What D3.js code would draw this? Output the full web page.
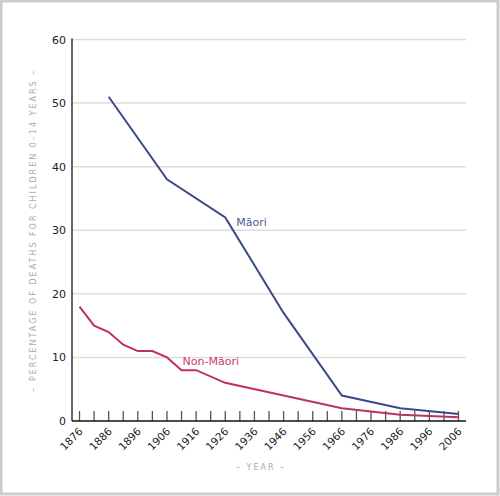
<!DOCTYPE html>
<html>
<head>
<meta charset="utf-8">
<script src="https://cdn.jsdelivr.net/npm/d3@7"></script>
<style>
  html, body { margin: 0; padding: 0; background: #fff; }
  svg { display: block; font-family: "DejaVu Sans", Verdana, sans-serif; }
</style>
</head>
<body>
<div id="chart"></div>
<script>
// values (percentage of deaths for children 0-14)
const maoriYears = [1886, 1906, 1926, 1946, 1966, 1986, 2006];
const maoriValues = [51, 38, 32, 17, 4, 2, 1.1];

const nonMaoriYears = [1876, 1881, 1886, 1891, 1896, 1901, 1906, 1911, 1916, 1926, 1946, 1966, 1976, 1986, 1996, 2006];
const nonMaoriValues = [18, 15, 14, 12, 11, 11, 10, 8, 8, 6, 4, 2, 1.5, 1, 0.8, 0.6];

const yTicks = [0, 10, 20, 30, 40, 50, 60];
const xLabelYears = [1876, 1886, 1896, 1906, 1916, 1926, 1936, 1946, 1956, 1966, 1976, 1986, 1996, 2006];

const width = 500;
const height = 496;

const svg = d3.select("#chart")
  .append("svg")
  .attr("width", width)
  .attr("height", height);

// outer grey frame
svg.append("rect")
  .attr("x", 1).attr("y", 1)
  .attr("width", width - 3).attr("height", height - 3)
  .attr("fill", "#fff")
  .attr("stroke", "#cccccc")
  .attr("stroke-width", 3);

const x = d3.scaleLinear().domain([1876, 2006]).range([79.5, 458.5]);
const y = d3.scaleLinear().domain([0, 60]).range([421, 39.5]);

const plotLeft = 72, plotRight = 466;

// gridlines
svg.append("g")
  .selectAll("line")
  .data(yTicks.filter(d => d > 0))
  .enter().append("line")
  .attr("x1", plotLeft).attr("x2", plotRight)
  .attr("y1", d => y(d)).attr("y2", d => y(d))
  .attr("stroke", "#dddddd")
  .attr("stroke-width", 1.5);

// small tick marks every 5 years
svg.append("g")
  .selectAll("line")
  .data(d3.range(1876, 2007, 5))
  .enter().append("line")
  .attr("x1", d => x(d)).attr("x2", d => x(d))
  .attr("y1", y(0)).attr("y2", y(0) - 10)
  .attr("stroke", "#555")
  .attr("stroke-width", 1.3);

// axes lines
svg.append("line")
  .attr("x1", plotLeft).attr("x2", plotLeft)
  .attr("y1", y(60) - 1).attr("y2", y(0))
  .attr("stroke", "#333").attr("stroke-width", 1.5);
svg.append("line")
  .attr("x1", plotLeft).attr("x2", plotRight)
  .attr("y1", y(0)).attr("y2", y(0))
  .attr("stroke", "#111").attr("stroke-width", 1.5);

// y tick labels
svg.append("g")
  .selectAll("text")
  .data(yTicks)
  .enter().append("text")
  .attr("x", 66)
  .attr("y", d => y(d) + 4)
  .attr("text-anchor", "end")
  .attr("font-size", 11)
  .attr("fill", "#222")
  .text(d => d);

// x tick labels, rotated
svg.append("g")
  .selectAll("text")
  .data(xLabelYears)
  .enter().append("text")
  .attr("transform", d => `translate(${x(d) + 4},${y(0) + 11}) rotate(-45)`)
  .attr("text-anchor", "end")
  .attr("font-size", 10.5)
  .attr("fill", "#222")
  .text(d => d);

// axis titles
svg.append("text")
  .attr("x", 261).attr("y", 470)
  .attr("text-anchor", "middle")
  .attr("font-size", 8)
  .attr("letter-spacing", 2)
  .attr("fill", "#aaa")
  .text("– YEAR –");

svg.append("text")
  .attr("transform", `translate(36,${(y(0) + y(60)) / 2}) rotate(-90)`)
  .attr("text-anchor", "middle")
  .attr("font-size", 8)
  .attr("letter-spacing", 2)
  .attr("fill", "#aaa")
  .text("– PERCENTAGE OF DEATHS FOR CHILDREN 0–14 YEARS –");

const line = d3.line()
  .x(d => x(d[0]))
  .y(d => y(d[1]));

const maori = d3.zip(maoriYears, maoriValues);
const nonMaori = d3.zip(nonMaoriYears, nonMaoriValues);

svg.append("path")
  .datum(nonMaori)
  .attr("d", line)
  .attr("fill", "none")
  .attr("stroke", "#c0305e")
  .attr("stroke-width", 2);

svg.append("path")
  .datum(maori)
  .attr("d", line)
  .attr("fill", "none")
  .attr("stroke", "#3a4a88")
  .attr("stroke-width", 2);

// series labels
svg.append("text")
  .attr("x", x(1926) + 11).attr("y", y(32) + 8)
  .attr("font-size", 11)
  .attr("fill", "#4a5a92")
  .text("Māori");

svg.append("text")
  .attr("x", x(1911) + 1).attr("y", y(10) + 8)
  .attr("font-size", 11)
  .attr("fill", "#c8406a")
  .text("Non-Māori");
</script>
</body>
</html>
